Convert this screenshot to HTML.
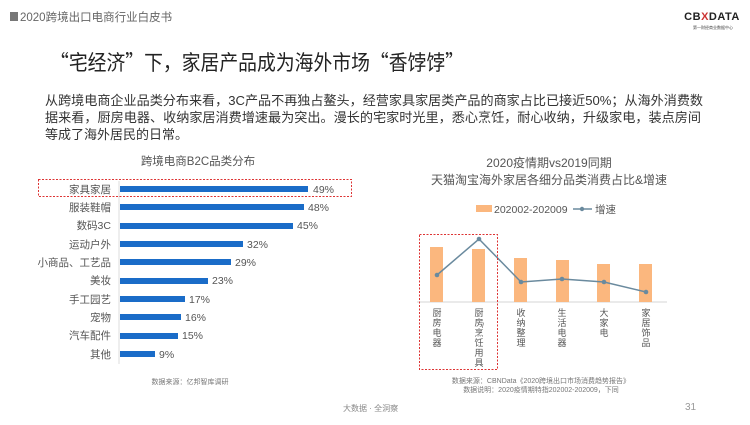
<!DOCTYPE html><html><head><meta charset="utf-8"><style>
body{margin:0;width:750px;height:420px;background:#fff;overflow:hidden;font-family:"Liberation Sans","Noto Sans CJK SC",sans-serif;}
</style></head><body>
<svg width="750" height="420" xmlns="http://www.w3.org/2000/svg" font-family="Liberation Sans, Noto Sans CJK SC, sans-serif">
<rect x="10" y="12" width="8" height="9" fill="#777"/>
<text x="20" y="21" font-size="11.5" fill="#666">2020跨境出口电商行业白皮书</text>
<text x="712" y="20" font-size="11" font-weight="bold" fill="#222" text-anchor="middle" letter-spacing="0.5">CB<tspan fill="#c33">X</tspan>DATA</text>
<text x="713" y="29" font-size="4" fill="#444" text-anchor="middle">第一财经商业数据中心</text>
<text x="50" y="70" font-size="21" fill="#222" font-family="Noto Sans CJK SC, sans-serif" textLength="414" lengthAdjust="spacingAndGlyphs">“宅经济”下，家居产品成为海外市场“香饽饽”</text>
<g font-size="13" fill="#333">
<text x="45" y="105" textLength="658" lengthAdjust="spacingAndGlyphs">从跨境电商企业品类分布来看，3C产品不再独占鳌头，经营家具家居类产品的商家占比已接近50%；从海外消费数</text>
<text x="45" y="122" textLength="656" lengthAdjust="spacingAndGlyphs">据来看，厨房电器、收纳家居消费增速最为突出。漫长的宅家时光里，悉心烹饪，耐心收纳，升级家电，装点房间</text>
<text x="45" y="139">等成了海外居民的日常。</text>
</g>
<text x="198" y="165" font-size="11.5" fill="#555" text-anchor="middle">跨境电商B2C品类分布</text>
<line x1="119" y1="181" x2="119" y2="364" stroke="#ddd"/>
<g font-size="10.5" fill="#555">
<g text-anchor="end">
<text x="111" y="193">家具家居</text><text x="111" y="211">服装鞋帽</text><text x="111" y="229">数码3C</text><text x="111" y="248">运动户外</text><text x="111" y="266">小商品、工艺品</text><text x="111" y="284">美妆</text><text x="111" y="303">手工园艺</text><text x="111" y="321">宠物</text><text x="111" y="339">汽车配件</text><text x="111" y="358">其他</text>
</g>
<g fill="#1a6cc8">
<rect x="120" y="186" width="188" height="6"/><rect x="120" y="204" width="184" height="6"/><rect x="120" y="223" width="173" height="6"/><rect x="120" y="241" width="123" height="6"/><rect x="120" y="259" width="111" height="6"/><rect x="120" y="278" width="88" height="6"/><rect x="120" y="296" width="65" height="6"/><rect x="120" y="314" width="61" height="6"/><rect x="120" y="333" width="58" height="6"/><rect x="120" y="351" width="35" height="6"/>
</g>
<text x="313" y="193">49%</text><text x="308" y="211">48%</text><text x="297" y="229">45%</text><text x="247" y="248">32%</text><text x="235" y="266">29%</text><text x="212" y="284">23%</text><text x="189" y="303">17%</text><text x="185" y="321">16%</text><text x="182" y="339">15%</text><text x="159" y="358">9%</text>
</g>
<rect x="38.5" y="179.5" width="313" height="17" fill="none" stroke="#d33" stroke-dasharray="2,1.5"/>
<text x="190" y="384" font-size="7" fill="#777" text-anchor="middle">数据来源：亿邦智库调研</text>
<text x="549" y="167" font-size="12" fill="#555" text-anchor="middle">2020疫情期vs2019同期</text>
<text x="549" y="184" font-size="12" fill="#555" text-anchor="middle">天猫淘宝海外家居各细分品类消费占比&amp;增速</text>
<rect x="476" y="205" width="16" height="7" fill="#fbb77e"/>
<text x="494" y="213" font-size="10.5" fill="#555">202002-202009</text>
<line x1="573" y1="209" x2="592" y2="209" stroke="#6a8a9e" stroke-width="1.5"/><circle cx="582" cy="209" r="2.2" fill="#6a8a9e"/>
<text x="595" y="213" font-size="10.5" fill="#555">增速</text>
<line x1="417" y1="302" x2="667" y2="302" stroke="#e3e3e3" stroke-width="1.5"/>
<g fill="#fbb77e">
<rect x="430" y="247" width="13" height="55"/><rect x="472" y="249" width="13" height="53"/><rect x="514" y="258" width="13" height="44"/><rect x="556" y="260" width="13" height="42"/><rect x="597" y="264" width="13" height="38"/><rect x="639" y="264" width="13" height="38"/>
</g>
<polyline points="437,275 479,239 521,282 562,279 604,282 646,292" fill="none" stroke="#6a8a9e" stroke-width="1.5"/>
<g fill="#6a8a9e"><circle cx="437" cy="275" r="2.3"/><circle cx="479" cy="239" r="2.3"/><circle cx="521" cy="282" r="2.3"/><circle cx="562" cy="279" r="2.3"/><circle cx="604" cy="282" r="2.3"/><circle cx="646" cy="292" r="2.3"/></g>
<g font-size="9" fill="#555" text-anchor="middle">
<text x="437" y="316">厨</text><text x="437" y="326">房</text><text x="437" y="336">电</text><text x="437" y="346">器</text>
<text x="479" y="316">厨</text><text x="479" y="326">房</text><text x="483" y="328" font-size="7">/</text><text x="479" y="336">烹</text><text x="479" y="346">饪</text><text x="479" y="356">用</text><text x="479" y="366">具</text>
<text x="521" y="316">收</text><text x="521" y="326">纳</text><text x="521" y="336">整</text><text x="521" y="346">理</text>
<text x="562" y="316">生</text><text x="562" y="326">活</text><text x="562" y="336">电</text><text x="562" y="346">器</text>
<text x="604" y="316">大</text><text x="604" y="326">家</text><text x="604" y="336">电</text>
<text x="646" y="316">家</text><text x="646" y="326">居</text><text x="646" y="336">饰</text><text x="646" y="346">品</text>
</g>
<rect x="419.5" y="234.5" width="78" height="135" fill="none" stroke="#d33" stroke-dasharray="2,1.5"/>
<text x="541" y="383" font-size="7" fill="#777" text-anchor="middle">数据来源：CBNData《2020跨境出口市场消费趋势报告》</text>
<text x="541" y="392" font-size="7" fill="#777" text-anchor="middle">数据说明：2020疫情期特指202002-202009，下同</text>
<text x="343" y="411" font-size="8" fill="#888">大数据 · 全洞察</text>
<text x="685" y="410" font-size="10" fill="#999">31</text>
</svg>
</body></html>
